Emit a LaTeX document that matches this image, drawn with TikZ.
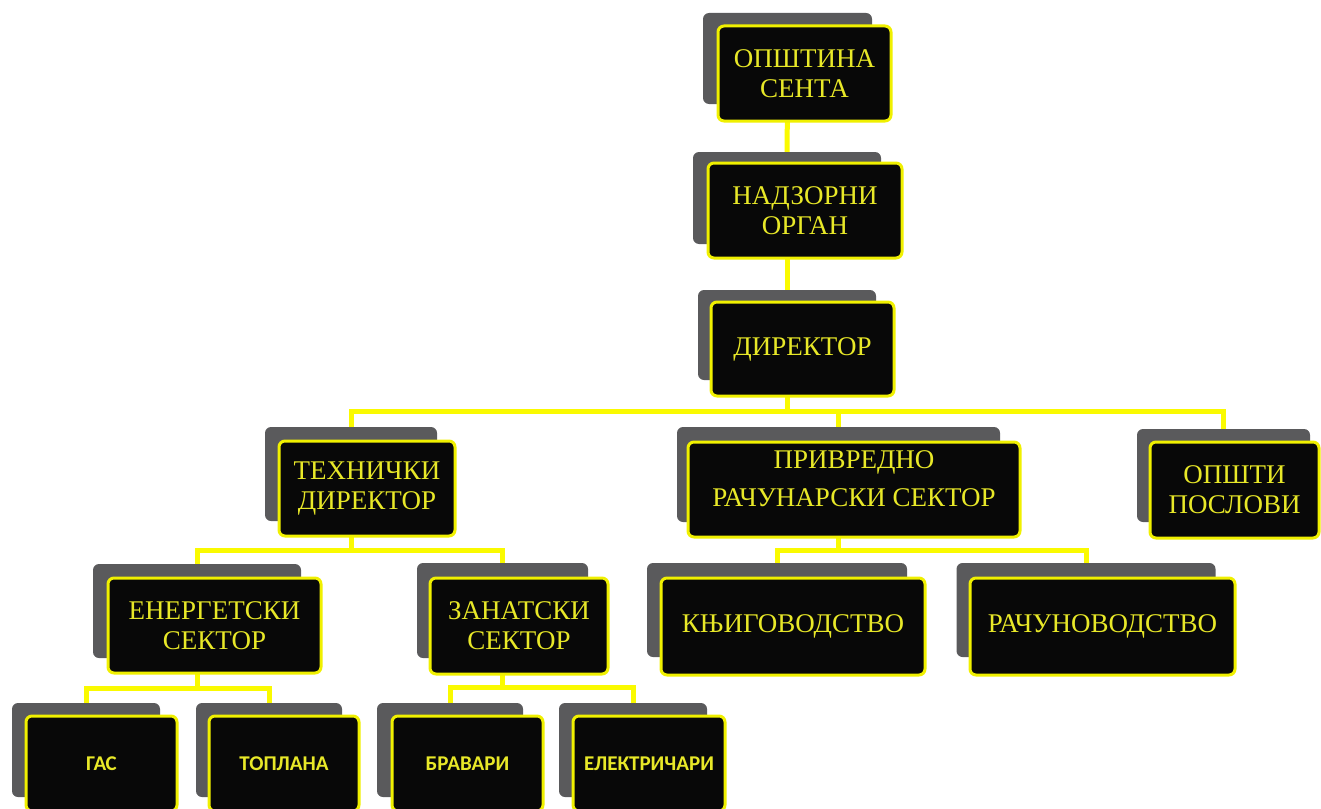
\documentclass[tikz,border=0pt]{standalone}
\usepackage{fontspec}
\setmainfont{Liberation Serif}
\newfontfamily\leaffont{Carlito}
\definecolor{shade}{RGB}{90,90,92}
\definecolor{boxfill}{RGB}{8,8,8}
\definecolor{rim}{RGB}{240,240,0}
\definecolor{lbl}{RGB}{232,232,40}
\definecolor{linkyellow}{RGB}{250,250,0}
\begin{document}
\begin{tikzpicture}[x=1pt,y=-1pt,
    back/.style={fill=shade,rounded corners=6pt,inner sep=0pt},
    box/.style={draw=rim,line width=3pt,fill=boxfill,rounded corners=6pt,inner sep=0pt,text=lbl,align=center,font=\fontsize{27}{30}\selectfont},
    leaf/.style={box,font=\leaffont\bfseries\fontsize{21}{24}\selectfont},
    link/.style={draw=linkyellow,line width=5pt}]
    \useasboundingbox (0,0) rectangle (1321,808);
    \clip (0,0) rectangle (1321,808);
    % grey boxes behind
    \node[back,minimum width=169pt,minimum height=91pt] (opstinaS) at (787.5,58.5) {};
    \node[back,minimum width=188pt,minimum height=92pt] (nadzorniS) at (787,198) {};
    \node[back,minimum width=178pt,minimum height=90pt] (direktorS) at (787,335) {};
    \node[back,minimum width=172pt,minimum height=94pt] (tehnickiS) at (351,474) {};
    \node[back,minimum width=323pt,minimum height=95pt] (privrednoS) at (838.5,474.5) {};
    \node[back,minimum width=173pt,minimum height=93pt] (opstiS) at (1223.5,475.5) {};
    \node[back,minimum width=208pt,minimum height=94pt] (energetskiS) at (197,611) {};
    \node[back,minimum width=171pt,minimum height=95pt] (zanatskiS) at (502.5,610.5) {};
    \node[back,minimum width=260pt,minimum height=94pt] (knjigS) at (777,610) {};
    \node[back,minimum width=259pt,minimum height=94pt] (racunS) at (1086,610) {};
    \node[back,minimum width=148pt,minimum height=94pt] (gasS) at (86,750) {};
    \node[back,minimum width=146pt,minimum height=94pt] (toplanaS) at (269,750) {};
    \node[back,minimum width=146pt,minimum height=94pt] (bravariS) at (450,750) {};
    \node[back,minimum width=148pt,minimum height=94pt] (elektricariS) at (633,750) {};
    % connectors
    \draw[link] (opstinaS.south) -- (nadzorniS.north);
    \draw[link] (nadzorniS.south) -- (direktorS.north);
    \draw[link] (direktorS.south) -- ++(0,31) -| (tehnickiS.north);
    \draw[link] (direktorS.south) -- ++(0,31) -| (privrednoS.north);
    \draw[link] (direktorS.south) -- ++(0,31) -| (opstiS.north);
    \draw[link] (tehnickiS.south) -- ++(0,29) -| (energetskiS.north);
    \draw[link] (tehnickiS.south) -- ++(0,29) -| (zanatskiS.north);
    \draw[link] (privrednoS.south) -- ++(0,28) -| (knjigS.north);
    \draw[link] (privrednoS.south) -- ++(0,28) -| (racunS.north);
    \draw[link] (energetskiS.south) -- ++(0,30) -| (gasS.north);
    \draw[link] (energetskiS.south) -- ++(0,30) -| (toplanaS.north);
    \draw[link] (zanatskiS.south) -- ++(0,29) -| (bravariS.north);
    \draw[link] (zanatskiS.south) -- ++(0,29) -| (elektricariS.north);
    % black boxes in front
    \node[box,minimum width=173pt,minimum height=95pt] (opstina) at (804.5,73.5) {ОПШТИНА\\СЕНТА};
    \node[box,minimum width=194pt,minimum height=95pt] (nadzorni) at (805,210.5) {НАДЗОРНИ\\ОРГАН};
    \node[box,minimum width=183pt,minimum height=94pt] (direktor) at (802.5,349) {ДИРЕКТОР};
    \node[box,minimum width=176pt,minimum height=95pt] (tehnicki) at (367,488.5) {ТЕХНИЧКИ\\ДИРЕКТОР};
    \node[box,minimum width=332pt,minimum height=95pt,text depth=22pt] (privredno) at (854,489.5) {ПРИВРЕДНО\\[8pt]РАЧУНАРСКИ СЕКТОР};
    \node[box,minimum width=169pt,minimum height=96pt] (opsti) at (1234.5,490) {ОПШТИ\\ПОСЛОВИ};
    \node[box,minimum width=213pt,minimum height=95pt] (energetski) at (214.5,625.5) {ЕНЕРГЕТСКИ\\СЕКТОР};
    \node[box,minimum width=178pt,minimum height=96pt] (zanatski) at (519,626) {ЗАНАТСКИ\\СЕКТОР};
    \node[box,minimum width=264pt,minimum height=97pt] (knjig) at (793,626.5) {КЊИГОВОДСТВО};
    \node[box,minimum width=265pt,minimum height=97pt] (racun) at (1102.5,626.5) {РАЧУНОВОДСТВО};
    \node[leaf,minimum width=151pt,minimum height=95pt] (gas) at (101.5,763.5) {ГАС};
    \node[leaf,minimum width=150pt,minimum height=95pt] (toplana) at (284,763.5) {ТОПЛАНА};
    \node[leaf,minimum width=151pt,minimum height=95pt] (bravari) at (467.5,763.5) {БРАВАРИ};
    \node[leaf,minimum width=152pt,minimum height=95pt] (elektricari) at (649,763.5) {ЕЛЕКТРИЧАРИ};
\end{tikzpicture}
\end{document}
